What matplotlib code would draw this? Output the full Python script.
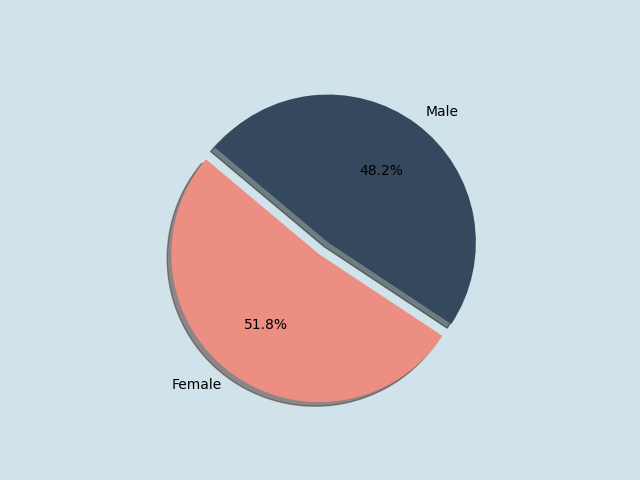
import matplotlib.pyplot as plt

labels = ["Female", "Male"]
shares = [51.8, 48.2]
colors = ["#ec8e81", "#34495e"]
explode = [0.1, 0]

fig, ax = plt.subplots(figsize=(6.4, 4.8), dpi=100)
fig.patch.set_facecolor("#d0e3ea")
ax.pie(shares, labels=labels, colors=colors, explode=explode,
       autopct="%1.1f%%", startangle=140, shadow=True)
plt.savefig("out.png", facecolor=fig.get_facecolor())
